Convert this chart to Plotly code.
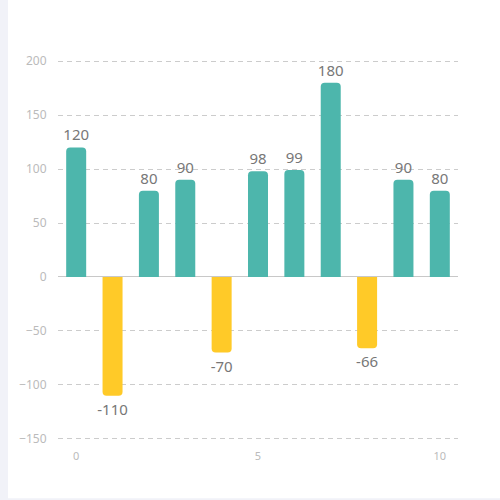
import plotly.graph_objects as go

# bar data
x_pos = [0, 1, 2, 3, 4, 5, 6, 7, 8, 9, 10]
values = [120, -110, 80, 90, -70, 98, 99, 180, -66, 90, 80]

y_ticks = [-150, -100, -50, 0, 50, 100, 150, 200]
x_ticks = [0, 5, 10]

teal = "#4db6ac"
yellow = "#ffca28"
bar_colors = [teal if v >= 0 else yellow for v in values]

fig = go.Figure()
fig.add_trace(go.Bar(
    x=x_pos,
    y=values,
    width=0.55,
    marker=dict(color=bar_colors, cornerradius=4, line=dict(width=0)),
    text=[str(v) for v in values],
    textposition="outside",
    textfont=dict(size=15, color="#777777"),
    cliponaxis=False,
    hoverinfo="x+y",
))

# white card on a light grey page
fig.add_shape(type="rect", xref="paper", yref="paper",
              x0=-0.125, x1=1.2, y0=-0.153, y1=1.3,
              fillcolor="white", line=dict(width=0), layer="below")

fig.update_layout(
    width=500, height=500,
    margin=dict(l=58, r=42, t=60, b=60, autoexpand=False),
    paper_bgcolor="#f1f2f8",
    plot_bgcolor="rgba(0,0,0,0)",
    font=dict(family="Noto Sans, sans-serif"),
    showlegend=False,
    uniformtext=dict(minsize=15, mode="show"),
)
fig.update_xaxes(
    range=[-0.5, 10.5],
    tickvals=x_ticks,
    showgrid=False,
    zeroline=False,
    showline=False,
    tickfont=dict(size=11, color="#bbbbbb"),
    ticks="outside",
    ticklen=6,
    tickcolor="rgba(0,0,0,0)",
)
fig.update_yaxes(
    range=[-151, 201],
    tickvals=y_ticks,
    showgrid=True,
    gridcolor="#cccccc",
    griddash="5px,4px",
    gridwidth=1,
    zeroline=True,
    zerolinecolor="#c8c8c8",
    zerolinewidth=1,
    tickfont=dict(size=12, color="#bbbbbb"),
    ticks="outside",
    ticklen=8,
    tickcolor="rgba(0,0,0,0)",
)

fig.write_html("out.html", config={"displayModeBar": False},
               post_script="document.body.style.margin='0';")
